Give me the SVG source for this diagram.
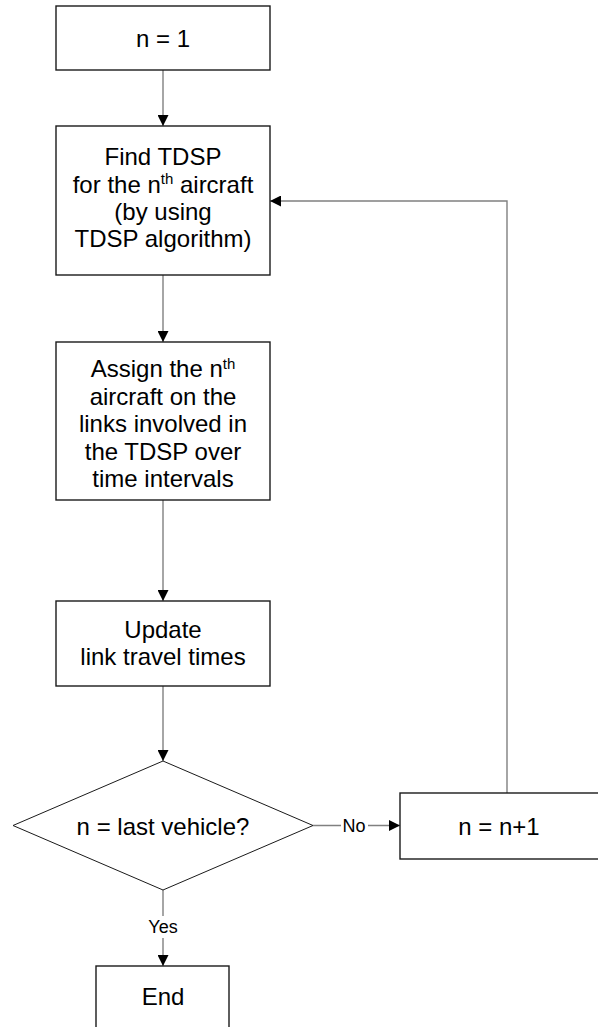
<svg xmlns="http://www.w3.org/2000/svg" width="598" height="1027" viewBox="0 0 598 1027">
<style>
.box{fill:#fff;stroke:#1a1a1a;stroke-width:1.4}
.dia{fill:#fff;stroke:#1a1a1a;stroke-width:1}
.t{font-family:"Liberation Sans",Arial,sans-serif;font-size:24px;fill:#000;text-anchor:middle}
.lbl{font-family:"Liberation Sans",Arial,sans-serif;font-size:18px;fill:#000;text-anchor:middle}
.sup{font-size:15px}
.c{fill:none;stroke:#808080;stroke-width:1.4}
</style>
<defs>
<marker id="ah" markerUnits="userSpaceOnUse" markerWidth="11" markerHeight="11" refX="11" refY="5.5" orient="auto">
<path d="M0,0 L11,5.5 L0,11 z" fill="#000"/>
</marker>
</defs>
<g id="connectors">
<line class="c" x1="163" y1="70" x2="163" y2="126" marker-end="url(#ah)"/>
<line class="c" x1="163" y1="275" x2="163" y2="342" marker-end="url(#ah)"/>
<line class="c" x1="163" y1="500" x2="163" y2="601" marker-end="url(#ah)"/>
<line class="c" x1="163" y1="686" x2="163" y2="761" marker-end="url(#ah)"/>
<line class="c" x1="313" y1="825.5" x2="400" y2="825.5" marker-end="url(#ah)"/>
<line class="c" x1="163" y1="890" x2="163" y2="966" marker-end="url(#ah)"/>
<polyline class="c" points="507,793 507,201 270,201" marker-end="url(#ah)"/>
<rect x="341" y="815" width="27" height="20" fill="#fff"/>
<text class="lbl" x="354" y="832">No</text>
<rect x="146" y="916" width="34" height="22" fill="#fff"/>
<text class="lbl" x="163" y="933">Yes</text>
</g>
<g id="n1">
<rect class="box" x="56" y="6" width="214" height="64"/>
<text class="t" x="163" y="46.5">n = 1</text>
</g>
<g id="find">
<rect class="box" x="56" y="126" width="214" height="149"/>
<text class="t" x="163" y="165">Find TDSP</text>
<text class="t" x="163" y="192.5">for the n<tspan class="sup" dy="-8.5">th</tspan><tspan dy="8.5"> aircraft</tspan></text>
<text class="t" x="163" y="219.5">(by using</text>
<text class="t" x="163" y="247">TDSP algorithm)</text>
</g>
<g id="assign">
<rect class="box" x="56" y="342" width="214" height="158"/>
<text class="t" x="163" y="377">Assign the n<tspan class="sup" dy="-8.5">th</tspan></text>
<text class="t" x="163" y="404.5">aircraft on the</text>
<text class="t" x="163" y="432">links involved in</text>
<text class="t" x="163" y="459.5">the TDSP over</text>
<text class="t" x="163" y="487">time intervals</text>
</g>
<g id="update">
<rect class="box" x="56" y="601" width="214" height="85"/>
<text class="t" x="163" y="638">Update</text>
<text class="t" x="163" y="665">link travel times</text>
</g>
<g id="decision">
<polygon class="dia" points="163,761 313,825.5 163,890 13,825.5"/>
<text class="t" x="163" y="834.5">n = last vehicle?</text>
</g>
<g id="incr">
<rect class="box" x="400" y="793" width="200" height="66"/>
<text class="t" x="499" y="834.5">n = n+1</text>
</g>
<g id="end">
<rect class="box" x="96" y="966" width="133" height="80"/>
<text class="t" x="163" y="1005">End</text>
</g>
</svg>
